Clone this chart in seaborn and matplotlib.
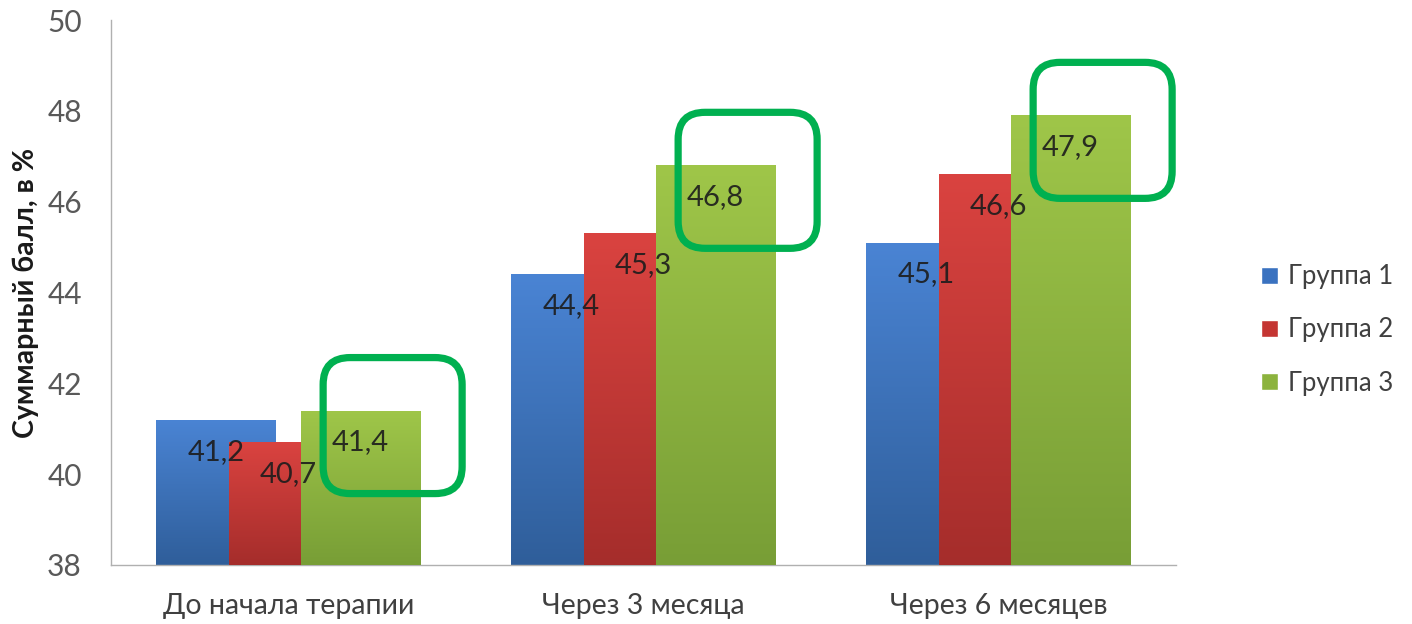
import numpy as np
import pandas as pd
import matplotlib
matplotlib.use("Agg")
import matplotlib.pyplot as plt
import matplotlib.transforms as mtransforms
from matplotlib.patches import FancyBboxPatch
from matplotlib.colors import LinearSegmentedColormap
import seaborn as sns

# --- data -------------------------------------------------------------
periods = ["До начала терапии", "Через 3 месяца", "Через 6 месяцев"]
groups = ["Группа 1", "Группа 2", "Группа 3"]
group1 = [41.2, 44.4, 45.1]
group2 = [40.7, 45.3, 46.6]
group3 = [41.4, 46.8, 47.9]
y_ticks = [38, 40, 42, 44, 46, 48, 50]

df = pd.DataFrame({
    "period": periods * 3,
    "group": [g for g in groups for _ in periods],
    "value": group1 + group2 + group3,
})

# --- style ------------------------------------------------------------
sns.set_theme(style="white")
plt.rcParams["font.family"] = ["Lato", "DejaVu Sans"]

base_colors = ["#3a72c0", "#c43532", "#8cb33d"]
top_colors = ["#4a84d4", "#da4340", "#9fc649"]
bottom_colors = ["#2f5e9a", "#a52d2b", "#789e36"]

fig = plt.figure(figsize=(14.12, 6.24), dpi=100)
ax = fig.add_axes([111 / 1412, 1 - 565 / 624, (1176 - 111) / 1412, (565 - 20) / 624])

sns.barplot(data=df, x="period", y="value", hue="group", palette=base_colors,
            width=0.61, ax=ax, legend=True, saturation=1)

ax.set_ylim(38, 50)
ax.set_xlim(-0.5, 2.5)
ax.set_yticks(y_ticks)

# Excel-style overlapping bars: wider than the dodge step, later series in front
bar_width = 0.338
for i, cont in enumerate(ax.containers):
    cmap = LinearSegmentedColormap.from_list(f"g{i}", [top_colors[i], bottom_colors[i]])
    for patch in cont.patches:
        cx = patch.get_x() + patch.get_width() / 2
        patch.set_width(bar_width)
        patch.set_x(cx - bar_width / 2)
        patch.set_edgecolor("none")
        patch.set_zorder(2 + i)
        h = patch.get_height()
        grad = np.linspace(0, 1, 256).reshape(-1, 1)
        im = ax.imshow(grad, cmap=cmap, aspect="auto", origin="upper",
                       extent=(cx - bar_width / 2, cx + bar_width / 2, 38, h),
                       zorder=2 + i + 0.5, interpolation="bicubic")
        im.set_clip_path(patch)
ax.set_xlim(-0.5, 2.5)
ax.set_ylim(38, 50)

# value labels inside the bars, decimal comma
for i, cont in enumerate(ax.containers):
    for patch in cont.patches:
        cx = patch.get_x() + patch.get_width() / 2
        h = patch.get_height()
        ax.annotate(f"{h:.1f}".replace(".", ","), xy=(cx, h), xytext=(0, -23),
                    textcoords="offset points", ha="center", va="center",
                    fontsize=21, color="#1c1c1c", alpha=0.9, zorder=10)

# rounded highlight frames over the third series
for patch in ax.containers[2].patches:
    cx = patch.get_x() + patch.get_width() / 2
    h = patch.get_height()
    tr = fig.dpi_scale_trans + mtransforms.ScaledTranslation(cx + 0.09, h - 0.33, ax.transData)
    w_in, h_in = 1.39, 1.36
    frame = FancyBboxPatch((-w_in / 2, -h_in / 2), w_in, h_in,
                           boxstyle="round,pad=0,rounding_size=0.27",
                           transform=tr, facecolor="none", edgecolor="#00b050",
                           linewidth=5.2, zorder=12, clip_on=False)
    ax.add_patch(frame)

# axes cosmetics
for side in ["top", "right"]:
    ax.spines[side].set_visible(False)
for side in ["left", "bottom"]:
    ax.spines[side].set_color("#b0b0b0")
    ax.spines[side].set_linewidth(1.0)
ax.tick_params(axis="y", labelsize=21.5, labelcolor="#595959", length=0, pad=21)
ax.tick_params(axis="x", labelsize=20.5, labelcolor="#404040", length=0, pad=20)
ax.set_xlabel("")
ax.set_ylabel("Суммарный балл, в %", fontsize=20.5, fontweight="bold", color="#1a1a1a", labelpad=6)

handles, labels = ax.get_legend_handles_labels()
ax.legend(handles, labels, loc="center left", bbox_to_anchor=(1243 / 1412, 1 - 330 / 624),
          bbox_transform=fig.transFigure, frameon=False, fontsize=18.5,
          handlelength=0.66, handleheight=0.66, handletextpad=0.4,
          labelspacing=1.1, labelcolor="#404040", borderaxespad=0.3)

fig.savefig("out.png", dpi=100)
